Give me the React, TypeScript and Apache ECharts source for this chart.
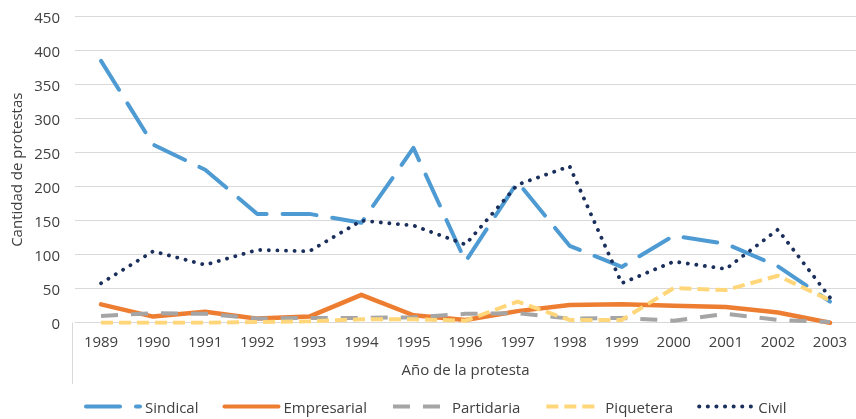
import React, { useEffect, useRef } from "react";
import * as echarts from "echarts";

const years = ["1989","1990","1991","1992","1993","1994","1995","1996","1997","1998","1999","2000","2001","2002","2003"];
const sindical = [385, 262, 225, 160, 160, 147, 257, 90, 207, 113, 82, 128, 116, 83, 31];
const empresarial = [27, 9, 16, 6, 9, 41, 11, 4, 17, 26, 27, 25, 23, 15, 0];
const partidaria = [10, 14, 13, 6, 7, 7, 8, 13, 14, 6, 7, 3, 13, 4, 1];
const piquetera = [0, 0, 0, 1, 2, 5, 5, 3, 31, 4, 4, 51, 48, 69, 33];
const civil = [58, 105, 85, 107, 105, 150, 143, 115, 203, 230, 58, 90, 79, 137, 37];

const FONT = "'Open Sans', 'Noto Sans', sans-serif";
const TXT = "#404040";

export default function App() {
  const ref = useRef<HTMLDivElement>(null);
  useEffect(() => {
    if (!ref.current) return;
    const chart = echarts.init(ref.current, undefined, { renderer: "svg" });
    const mk = (name: string, data: number[], color: string, width: number, type: any, cap: any) => ({
      name,
      type: "line",
      data,
      symbol: "none",
      lineStyle: { color, width, type, cap, join: "round" },
      itemStyle: { color },
    });
    chart.setOption({
      animation: false,
      textStyle: { fontFamily: FONT },
      grid: { left: 72, top: 16.7, height: 306, width: 787 },
      xAxis: {
        type: "category",
        data: years,
        boundaryGap: true,
        axisLine: { show: true, lineStyle: { color: "#D9D9D9", width: 1 } },
        axisTick: { show: false },
        axisLabel: { color: TXT, fontSize: 15, fontFamily: FONT, margin: 11 },
        name: "Año de la protesta",
        nameLocation: "middle",
        nameGap: 39,
        nameTextStyle: { color: TXT, fontSize: 15, fontFamily: FONT },
      },
      yAxis: {
        type: "value",
        min: 0,
        max: 450,
        interval: 50,
        axisLine: { show: false },
        axisTick: { show: false },
        splitLine: { lineStyle: { color: "#D9D9D9", width: 1 } },
        axisLabel: { color: TXT, fontSize: 15, fontFamily: FONT, margin: 15 },
        name: "Cantidad de protestas",
        nameLocation: "middle",
        nameRotate: 90,
        nameGap: 52,
        nameTextStyle: { color: TXT, fontSize: 15, fontFamily: FONT },
      },
      legend: {
        left: 84,
        top: 399,
        padding: 0,
        itemWidth: 54,
        itemHeight: 14,
        itemGap: 24,
        itemStyle: { opacity: 0 },
        lineStyle: { width: 4 },
        textStyle: { color: TXT, fontSize: 15, fontFamily: FONT, padding: [0, 0, 0, 0] },
        data: ["Sindical", "Empresarial", "Partidaria", "Piquetera", "Civil"],
      },
      graphic: [
        {
          type: "line",
          shape: { x1: 72.5, y1: 322.7, x2: 72.5, y2: 384 },
          style: { stroke: "#D9D9D9", lineWidth: 1 },
        },
      ],
      series: [
        mk("Sindical", sindical, "#4E9AD3", 4, [34, 16], "round"),
        mk("Empresarial", empresarial, "#ED7D31", 4.5, "solid", "round"),
        mk("Partidaria", partidaria, "#A5A5A5", 4, [17, 13], "butt"),
        mk("Piquetera", piquetera, "#FFD77A", 4, [12, 6], "butt"),
        mk("Civil", civil, "#1B2F5C", 3.8, [0.1, 8.5], "round"),
      ],
    });
    return () => chart.dispose();
  }, []);
  return <div ref={ref} style={{ position: "fixed", left: 0, top: 0, width: 856, height: 419 }} />;
}
